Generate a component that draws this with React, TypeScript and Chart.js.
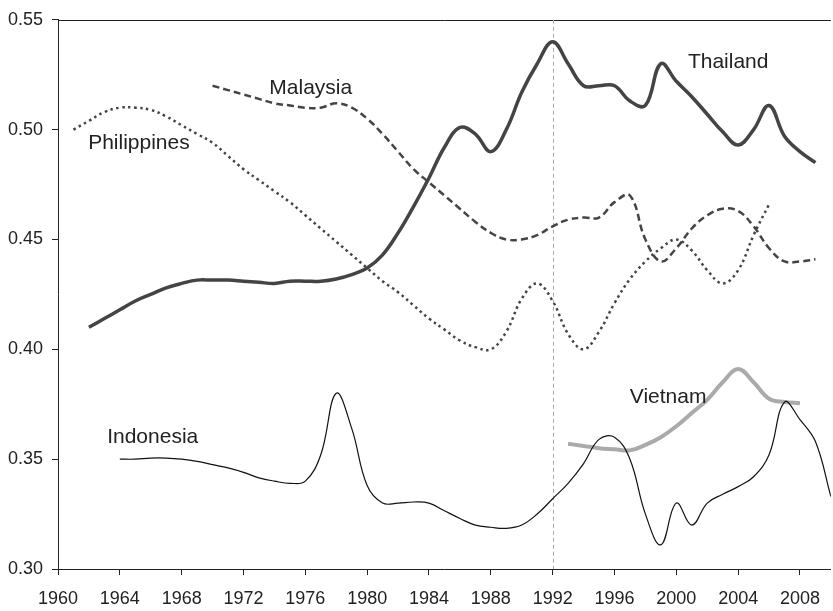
import React, { useEffect, useRef } from "react";
import { Chart, registerables } from "chart.js";

Chart.register(...registerables);

// ---- Data ----
const xTickYears = [1960, 1964, 1968, 1972, 1976, 1980, 1984, 1988, 1992, 1996, 2000, 2004, 2008];
const yTickValues = [0.3, 0.35, 0.4, 0.45, 0.5, 0.55];
const markerYear = 1992;

const thailandStart = 1962;
const thailandValues = [
  0.410, 0.414, 0.418, 0.422, 0.425, 0.428, 0.430, 0.4315, 0.4315, 0.4315,
  0.431, 0.4305, 0.430, 0.431, 0.431, 0.431, 0.432, 0.434, 0.437, 0.443,
  0.453, 0.465, 0.478, 0.492, 0.501, 0.498, 0.490, 0.500, 0.517, 0.530,
  0.540, 0.530, 0.520, 0.520, 0.520, 0.513, 0.511, 0.530, 0.522, 0.515,
  0.507, 0.499, 0.493, 0.500, 0.511, 0.497, 0.490, 0.485,
];

const malaysiaStart = 1970;
const malaysiaValues = [
  0.520, 0.518, 0.516, 0.514, 0.512, 0.511, 0.510, 0.510, 0.512, 0.510,
  0.505, 0.498, 0.490, 0.482, 0.476, 0.470, 0.464, 0.458, 0.453, 0.450,
  0.450, 0.452, 0.456, 0.459, 0.460, 0.460, 0.467, 0.470, 0.450, 0.440,
  0.446, 0.455, 0.461, 0.464, 0.463, 0.456, 0.446, 0.440, 0.440, 0.441,
];

const philippinesStart = 1961;
const philippinesValues = [
  0.500, 0.504, 0.508, 0.510, 0.510, 0.509, 0.506, 0.502, 0.498, 0.494,
  0.488, 0.482, 0.477, 0.472, 0.467, 0.461, 0.455, 0.449, 0.443, 0.437,
  0.431, 0.426, 0.420, 0.414, 0.409, 0.404, 0.401, 0.400, 0.408, 0.423,
  0.430, 0.422, 0.407, 0.400, 0.408, 0.421, 0.432, 0.440, 0.446, 0.450,
  0.445, 0.436, 0.430, 0.436, 0.452, 0.466,
];

const indonesiaStart = 1964;
const indonesiaValues = [
  0.350, 0.350, 0.3505, 0.3505, 0.350, 0.349, 0.3475, 0.346, 0.344, 0.3415,
  0.340, 0.339, 0.340, 0.352, 0.380, 0.364, 0.338, 0.330, 0.330, 0.3305,
  0.330, 0.3265, 0.323, 0.320, 0.319, 0.3185, 0.320, 0.325, 0.332, 0.339,
  0.348, 0.359, 0.360, 0.350, 0.325, 0.311, 0.330, 0.320, 0.330, 0.334,
  0.3375, 0.342, 0.352, 0.376, 0.368, 0.358, 0.333,
];

const vietnamStart = 1993;
const vietnamValues = [
  0.357, 0.356, 0.355, 0.3545, 0.354, 0.3565, 0.360, 0.365, 0.371, 0.377,
  0.385, 0.391, 0.385, 0.3775, 0.376, 0.3755,
];

const seriesLabels = ["Thailand", "Malaysia", "Philippines", "Indonesia", "Vietnam"];
// label anchors in data coordinates (year, value at text baseline)
const labelYears = [2000.75, 1973.67, 1961.95, 1963.18, 1996.99];
const labelValues = [0.528, 0.5163, 0.4911, 0.3573, 0.3757];

const toPoints = (start: number, values: number[]) =>
  values.map((v, i) => ({ x: start + i, y: v }));

const FONT = "'Liberation Sans', Arial, Helvetica, sans-serif";

const overlayPlugin = {
  id: "overlay",
  beforeDatasetsDraw(chart: any) {
    const { ctx, chartArea, scales } = chart;
    ctx.save();
    // top border
    ctx.strokeStyle = "#222";
    ctx.lineWidth = 1;
    ctx.beginPath();
    ctx.moveTo(chartArea.left, Math.round(chartArea.top) + 0.5);
    ctx.lineTo(chartArea.right, Math.round(chartArea.top) + 0.5);
    ctx.stroke();
    // vertical marker
    const px = Math.round(scales.x.getPixelForValue(markerYear)) + 0.5;
    ctx.strokeStyle = "#aaaaaa";
    ctx.setLineDash([4, 3]);
    ctx.beginPath();
    ctx.moveTo(px, chartArea.top);
    ctx.lineTo(px, chartArea.bottom);
    ctx.stroke();
    ctx.restore();
  },
  afterDatasetsDraw(chart: any) {
    const { ctx, scales } = chart;
    ctx.save();
    ctx.fillStyle = "#222";
    ctx.font = `21px ${FONT}`;
    ctx.textAlign = "left";
    ctx.textBaseline = "alphabetic";
    seriesLabels.forEach((t, i) => {
      ctx.fillText(t, scales.x.getPixelForValue(labelYears[i]), scales.y.getPixelForValue(labelValues[i]));
    });
    ctx.restore();
  },
};

export default function App() {
  const ref = useRef<HTMLCanvasElement | null>(null);

  useEffect(() => {
    document.body.style.margin = "0";
    const canvas = ref.current;
    if (!canvas) return;
    const chart = new Chart(canvas, {
      type: "line",
      data: {
        datasets: [
          {
            label: "Indonesia",
            data: toPoints(indonesiaStart, indonesiaValues),
            borderColor: "#111",
            borderWidth: 1.2,
            pointRadius: 0,
            tension: 0.4,
            fill: false,
          },
          {
            label: "Philippines",
            data: toPoints(philippinesStart, philippinesValues),
            borderColor: "#444",
            borderWidth: 2.5,
            borderDash: [2.5, 3.5],
            pointRadius: 0,
            tension: 0.4,
            fill: false,
          },
          {
            label: "Malaysia",
            data: toPoints(malaysiaStart, malaysiaValues),
            borderColor: "#444",
            borderWidth: 2.5,
            borderDash: [7, 4],
            pointRadius: 0,
            tension: 0.4,
            fill: false,
          },
          {
            label: "Vietnam",
            data: toPoints(vietnamStart, vietnamValues),
            borderColor: "#aaaaaa",
            borderWidth: 4,
            pointRadius: 0,
            tension: 0.4,
            fill: false,
          },
          {
            label: "Thailand",
            data: toPoints(thailandStart, thailandValues),
            borderColor: "#444",
            borderWidth: 3.5,
            pointRadius: 0,
            tension: 0.4,
            fill: false,
          },
        ],
      },
      options: {
        animation: false,
        responsive: false,
        maintainAspectRatio: false,
        devicePixelRatio: 1,
        layout: { padding: { top: 16, right: 0, left: 0, bottom: 0 } },
        plugins: { legend: { display: false }, tooltip: { enabled: false } },
        scales: {
          x: {
            type: "linear",
            min: 1960,
            max: 2010,
            afterBuildTicks: (scale: any) => {
              scale.ticks = xTickYears.map((v) => ({ value: v }));
            },
            afterFit: (scale: any) => {
              scale.height = 42;
            },
            ticks: {
              color: "#222",
              font: { family: FONT, size: 18 },
              padding: 13,
              maxRotation: 0,
              autoSkip: false,
              callback: (v: any) => String(v),
            },
            grid: {
              display: true,
              drawOnChartArea: false,
              drawTicks: true,
              tickLength: 6,
              color: "#222",
            },
            border: { display: true, color: "#222", width: 1 },
          },
          y: {
            type: "linear",
            min: 0.3,
            max: 0.55,
            afterBuildTicks: (scale: any) => {
              scale.ticks = yTickValues.map((v) => ({ value: v }));
            },
            afterFit: (scale: any) => {
              scale.width = 58;
            },
            ticks: {
              color: "#222",
              font: { family: FONT, size: 18 },
              padding: 9,
              callback: (v: any) => Number(v).toFixed(2),
            },
            grid: {
              display: true,
              drawOnChartArea: false,
              drawTicks: true,
              tickLength: 6,
              color: "#222",
            },
            border: { display: true, color: "#222", width: 1 },
          },
        },
      },
      plugins: [overlayPlugin],
    });
    return () => chart.destroy();
  }, []);

  return (
    <div style={{ position: "absolute", left: 0, top: 0, width: 833, height: 611, background: "#fff" }}>
      <canvas ref={ref} width={833} height={611} style={{ width: 833, height: 611 }} />
    </div>
  );
}
